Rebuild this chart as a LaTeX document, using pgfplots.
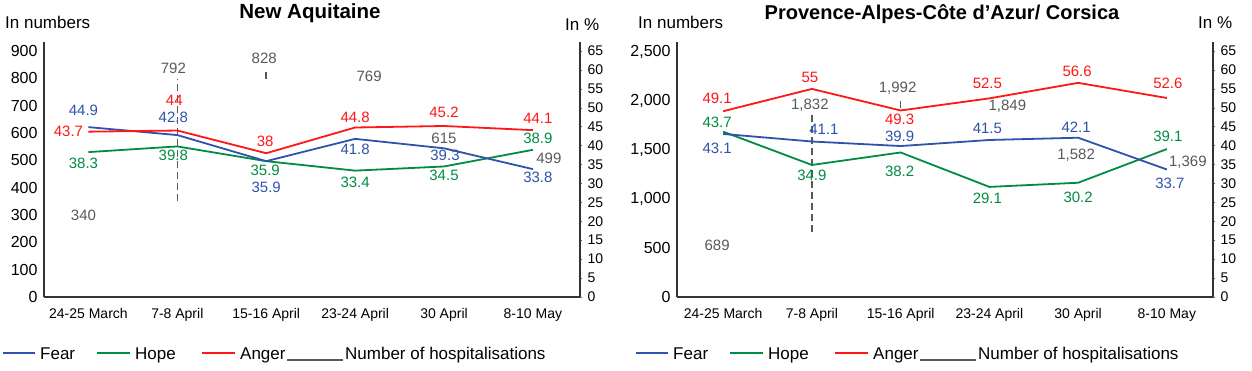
\documentclass[border=0pt]{standalone}
\usepackage{fontspec}
\setmainfont{Liberation Sans}
\usepackage{pgfplots}
\pgfplotsset{compat=1.18}
\definecolor{fearc}{RGB}{47,82,172}
\definecolor{hopec}{RGB}{0,140,66}
\definecolor{angerc}{RGB}{255,22,22}
\definecolor{hospc}{RGB}{89,89,89}
\newcommand\fs[1]{\fontsize{#1pt}{#1pt}\selectfont}
\pgfplotsset{
  base/.style={scale only axis, width=536pt, height=255pt, ymin=0,
    /pgf/number format/assume math mode=true, clip=false,
    axis line style={line width=1.2pt, black!80}},
  numax/.style={base, axis x line*=bottom, axis y line*=left,
    xtick={0,...,5},
    xticklabels={24-25 March,7-8 April,15-16 April,23-24 April,30 April,8-10 May},
    major tick length=0pt,
    x tick label style={font=\fs{14}, yshift=-8pt},
    y tick label style={font=\fs{16}, xshift=-3pt}},
  pctax/.style={base, axis x line=none, axis y line*=right, ymax=67.4,
    ytick={0,5,...,65}, tick align=outside, major tick length=2pt,
    tick style={black!60, line width=0.6pt},
    y tick label style={font=\fs{14}, xshift=2pt}},
  lab/.style={nodes near coords,
    visualization depends on={value \thisrow{dx} \as \lx},
    visualization depends on={value \thisrow{dy} \as \ly},
    every node near coord/.append style={anchor=center, inner sep=0pt,
      xshift=\lx pt, yshift=\ly pt, font=\fs{15}, text=#1}},
  ser/.style={#1, line width=1.8pt, mark=none, lab={#1}},
  hosp/.style={draw=none, mark=none, lab={hospc}},
  dsh/.style={hospc, line width=1.5pt, dash pattern=on 7pt off 4pt, mark=none}
}
\begin{document}
\begin{tikzpicture}
\path[use as bounding box] (0,0) rectangle (1252pt,370pt);
% ---------------- Left panel ----------------
\begin{axis}[numax, at={(44pt,73pt)}, anchor=south west,
  xmin=-0.5, xmax=5.53, ymax=933, ytick={0,100,...,900}]
\addplot[dsh] coordinates {(1,351) (1,797)};
\addplot[dsh] coordinates {(2,797) (2,834)};
\addplot[hosp] table {
x y dx dy
0 340 -5 -11
1 792 -4 12.5
2 828 -2 12
3 769 14 10
4 615 0 -9
5 499 16 2
};
\end{axis}
\begin{axis}[pctax, at={(44pt,73pt)}, anchor=south west,
  xmin=-0.5, xmax=5.53]
\addplot[ser=hopec] table {
x y dx dy
0 38.3 -5 -11
1 39.8 -4 -9
2 35.9 -1 -9
3 33.4 0 -12
4 34.5 0 -9
5 38.9 5 11
};
\addplot[ser=fearc] table {
x y dx dy
0 44.9 -5 17
1 42.8 -4 18
2 35.9 0 -26
3 41.8 0 -10
4 39.3 1 -7
5 33.8 5 -8
};
\addplot[ser=angerc] table {
x y dx dy
0 43.7 -20 0
1 44 -3 30
2 38 -1 12
3 44.8 0 10
4 45.2 0 14
5 44.1 5 12
};
\end{axis}
\node[font=\fs{20.5}\bfseries] at (310pt,357pt) {New Aquitaine};
\node[anchor=west, inner sep=0pt, font=\fs{17}] at (5pt,348pt) {In numbers};
\node[anchor=west, inner sep=0pt, font=\fs{17}] at (565pt,345pt) {In \%};
% ---------------- Right panel ----------------
\begin{axis}[numax, at={(677pt,73pt)}, anchor=south west,
  xmin=-0.52, xmax=5.52, ymax=2602, ytick={0,500,...,2500}]
\addplot[dsh] coordinates {(1,663) (1,1867)};
\addplot[dsh] coordinates {(2,1929) (2,2020)};
\addplot[hosp] table {
x y dx dy
0 689 -6 -15.5
1 1832 -2 12.5
2 1992 -3 14
3 1849 18 10
4 1582 -2 -13
5 1369 21 1
};
\end{axis}
\begin{axis}[pctax, at={(677pt,73pt)}, anchor=south west,
  xmin=-0.52, xmax=5.52]
\addplot[ser=hopec] table {
x y dx dy
0 43.7 -6 9
1 34.9 0 -10
2 38.2 -1 -19
3 29.1 -2 -11
4 30.2 0 -15
5 39.1 1 13
};
\addplot[ser=fearc] table {
x y dx dy
0 43.1 -6 -14
1 41.1 12 12
2 39.9 -1 10
3 41.5 -2 12
4 42.1 -2 10
5 33.7 3 -14
};
\addplot[ser=angerc] table {
x y dx dy
0 49.1 -6 13
1 55 -2 11
2 49.3 -1 -9
3 52.5 -2 15
4 56.6 -1 12
5 52.6 1 15
};
\end{axis}
\node[font=\fs{20}\bfseries] at (942pt,356pt) {Provence-Alpes-Côte d’Azur/ Corsica};
\node[anchor=west, inner sep=0pt, font=\fs{17}] at (638pt,348pt) {In numbers};
\node[anchor=west, inner sep=0pt, font=\fs{17}] at (1198pt,347pt) {In \%};
% ---------------- Legends ----------------
\foreach \o in {0,633}{
  \begin{scope}[xshift=\o pt]
  \draw[fearc, line width=2pt] (3pt,17pt) -- (35pt,17pt);
  \node[anchor=base west, inner sep=0pt, font=\fs{17}] at (40pt,11pt) {Fear};
  \draw[hopec, line width=2pt] (97pt,17pt) -- (130pt,17pt);
  \node[anchor=base west, inner sep=0pt, font=\fs{17}] at (135pt,11pt) {Hope};
  \draw[angerc, line width=2pt] (202pt,17pt) -- (235pt,17pt);
  \node[anchor=base west, inner sep=0pt, font=\fs{17}] at (240pt,11pt) {Anger};
  \draw[hospc, line width=2pt] (287pt,10pt) -- (343pt,10pt);
  \node[anchor=base west, inner sep=0pt, font=\fs{17}] at (345pt,11pt) {Number of hospitalisations};
  \end{scope}
}
\end{tikzpicture}
\end{document}
